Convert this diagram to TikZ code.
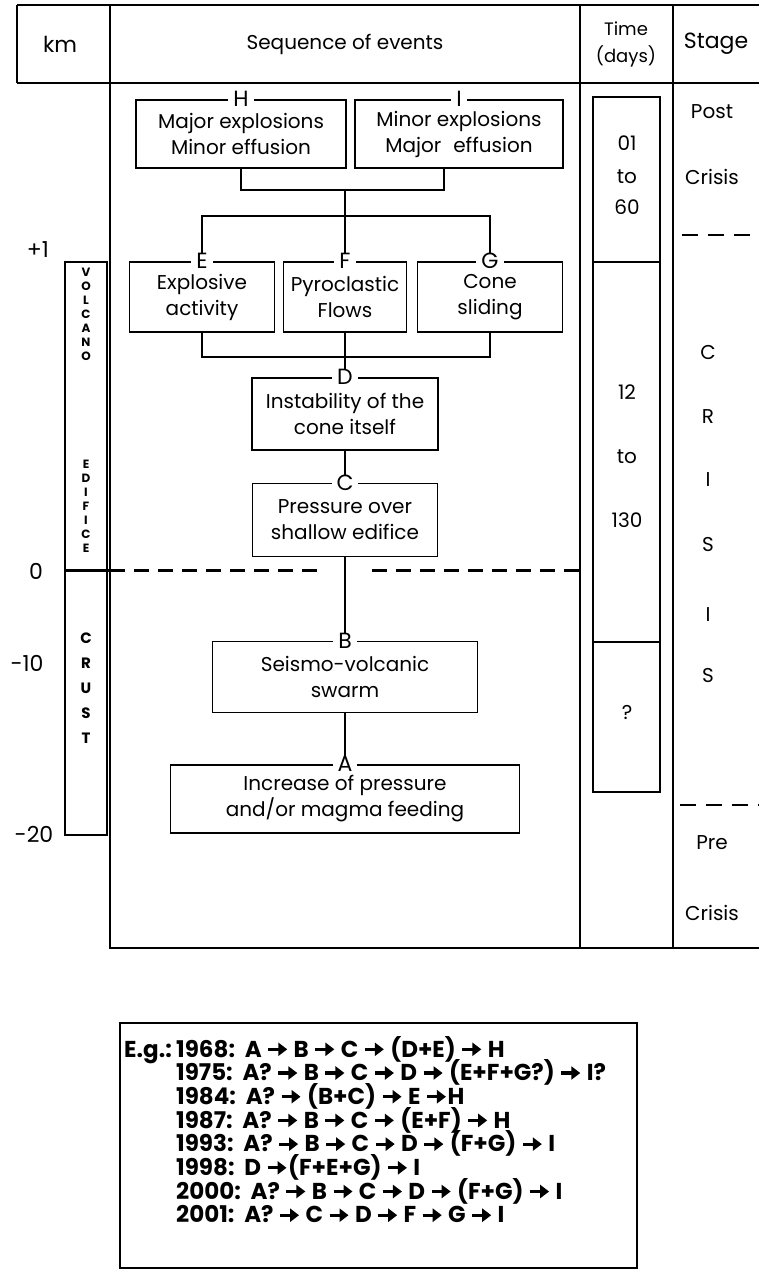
\documentclass[tikz,border=0pt]{standalone}
\usepackage{fontspec}
\setmainfont{Poppins}
\usetikzlibrary{arrows.meta,positioning,calc}
\newcommand{\evarrow}{\tikz[baseline=-0.6ex]{
  \draw[line width=3.2pt,-{Triangle[length=9pt,width=13pt]}] (0,0) -- (19pt,0);
}}

\tikzset{
  tabline/.style={line width=1.8pt},
  link/.style={line width=1.8pt},
  zeroline/.style={line width=3pt,dash pattern=on 15pt off 9pt},
  stageline/.style={line width=2.6pt,dash pattern=on 16pt off 10pt},
  evbox/.style={draw,line width=1.8pt,align=center,inner sep=2pt,
        font=\fontsize{20}{26}\selectfont},
  evtag/.style={fill=white,inner xsep=5pt,inner ysep=0pt,font=\fontsize{22}{22}\selectfont},
  head/.style={font=\fontsize{20}{28}\selectfont,align=center},
  kmtick/.style={font=\fontsize{22}{22}\selectfont},
  coltext/.style={font=\fontsize{20}{20}\selectfont},
  edif/.style={font=\fontsize{12}{12}\selectfont\bfseries,inner sep=0pt},
  crust/.style={font=\fontsize{15}{15}\selectfont\bfseries,inner sep=0pt},
  egline/.style={anchor=base west,inner sep=0pt,font=\fontsize{23}{23}\selectfont\bfseries}
}

\begin{document}
\begin{tikzpicture}[x=1pt,y=-1pt]
  \useasboundingbox (0,0) rectangle (759,1283);

  % table frame
  \draw[line width=2.4pt] (17,5) -- (759,5);
  \draw[line width=2.4pt] (17,83) -- (759,83);
  \draw[tabline] (17,5) -- (17,83);
  \draw[tabline] (110,5) -- (110,948) -- (759,948);
  \draw[tabline] (580,5) -- (580,948);
  \draw[tabline] (673,5) -- (673,948);

  \node[head,font=\fontsize{22}{28}\selectfont] (hkm) at (60,44) {km};
  \node[head] (hseq) at (345,44) {Sequence of events};
  \node[head,font=\fontsize{18}{27}\selectfont] (htime) at (626,44) {Time\\(days)};
  \node[head,font=\fontsize{22}{28}\selectfont] (hstage) at (716,44) {Stage};

  % depth scale
  \draw[tabline] (65,262) rectangle (107,835);
  \draw[line width=3pt] (65,570) -- (110,570);
  \draw[zeroline] (110,570) -- (323,570);
  \draw[zeroline] (372,570) -- (580,570);
  \node[kmtick] (k1) at (38,250) {+1};
  \node[kmtick] (k0) at (36,571) {0};
  \node[kmtick] (k10) at (27,663) {-10};
  \node[kmtick] (k20) at (34,834) {-20};
  \foreach \ch [count=\i] in {V,O,L,C,A,N,O}
    \node[edif] (v\i) at (86,258+14*\i) {\ch};
  \foreach \ch [count=\i] in {E,D,I,F,I,C,E}
    \node[edif] (e\i) at (86,450+14*\i) {\ch};
  \foreach \ch [count=\i] in {C,R,U,S,T}
    \node[crust] (c\i) at (86,613+25*\i) {\ch};

  % time column
  \draw[tabline] (593,97) rectangle (660,792);
  \draw[line width=2.6pt] (593,97) rectangle (660,262);
  \draw[tabline] (593,642) -- (660,642);
  \node[coltext] (t01) at (627,143) {01};
  \node[coltext] (tto1) at (627,177) {to};
  \node[coltext] (t60) at (627,207) {60};
  \node[coltext] (t12) at (627,392) {12};
  \node[coltext] (tto2) at (627,457) {to};
  \node[coltext] (t130) at (627,520) {130};
  \node[coltext] (tq) at (627,712) {?};

  % stage column
  \node[coltext] (spost) at (712,112) {Post};
  \node[coltext] (scr1) at (712,177) {Crisis};
  \draw[stageline] (682,235) -- (759,235);
  \foreach \ch/\y [count=\i] in {C/352,R/417,I/480,S/545,I/615,S/675}
    \node[coltext] (s\i) at (708,\y) {\ch};
  \draw[stageline] (680,805) -- (759,805);
  \node[coltext] (spre) at (712,843) {Pre};
  \node[coltext] (scr2) at (712,913) {Crisis};

  % sequence of events
  \node[evbox,minimum width=210,minimum height=68] (H) at (241,134) {Major explosions\\Minor effusion};
  \node[evbox,minimum width=208,minimum height=68] (I) at (459,134) {Minor explosions\\Major\hspace{12pt}effusion};
  \node[evbox,minimum width=145,minimum height=70] (E) at (202,297) {Explosive\\activity};
  \node[evbox,minimum width=123,minimum height=70] (F) at (345,297) {Pyroclastic\\Flows};
  \node[evbox,minimum width=145,minimum height=70] (G) at (490,297) {Cone\\sliding};
  \node[evbox,minimum width=186,minimum height=72] (D) at (345,414) {Instability of the\\cone itself};
  \node[evbox,minimum width=185,minimum height=73] (C) at (345,520) {Pressure over\\shallow edifice};
  \node[evbox,minimum width=265,minimum height=71] (B) at (345,677) {Seismo-volcanic\\swarm};
  \node[evbox,minimum width=349,minimum height=68] (A) at (345,799) {Increase of pressure\\and/or magma feeding};

  \coordinate (hi) at (345,190);
  \coordinate (mid) at (345,216);
  \coordinate (low) at (345,357);
  \draw[link] (H.south) |- (hi) -| ([xshift=-15pt]I.south);
  \draw[link] (hi) -- (mid);
  \draw[link] (E.north) |- (mid) -| (G.north);
  \draw[link] (mid) -- (F.north);
  \draw[link] (E.south) |- (low) -| (G.south);
  \draw[link] (F.south) -- (D.north);
  \draw[link] (D) -- (C);
  \draw[link] (C) -- (B);
  \draw[link] (B) -- (A);
  \foreach \n in {A,...,I}
    \node[evtag] (tag\n) at (\n.north) {\n};

  % examples
  \draw[tabline] (120,1023) rectangle (637,1268);
  \node[egline,anchor=base east] (eg) at (172,1057) {E.g.:};
  \foreach \yr/\seq [count=\i] in {
      1968/{A \evarrow{} B \evarrow{} C \evarrow{} (D+E) \evarrow{} H},
      1975/{A? \evarrow{} B \evarrow{} C \evarrow{} D \evarrow{} (E+F+G?) \evarrow{} I?},
      1984/{A? \evarrow{} (B+C) \evarrow{} E \evarrow{}H},
      1987/{A? \evarrow{} B \evarrow{} C \evarrow{} (E+F) \evarrow{} H},
      1993/{A? \evarrow{} B \evarrow{} C \evarrow{} D \evarrow{} (F+G) \evarrow{} I},
      1998/{D \evarrow{}(F+E+G) \evarrow{} I},
      2000/{A? \evarrow{} B \evarrow{} C \evarrow{} D \evarrow{} (F+G) \evarrow{} I},
      2001/{A? \evarrow{} C \evarrow{} D \evarrow{} F \evarrow{} G \evarrow{} I}}
    \node[egline] (y\i) at (176,1057+23.7*\i-23.7) {\yr:\ \ \seq};
\end{tikzpicture}
\end{document}
